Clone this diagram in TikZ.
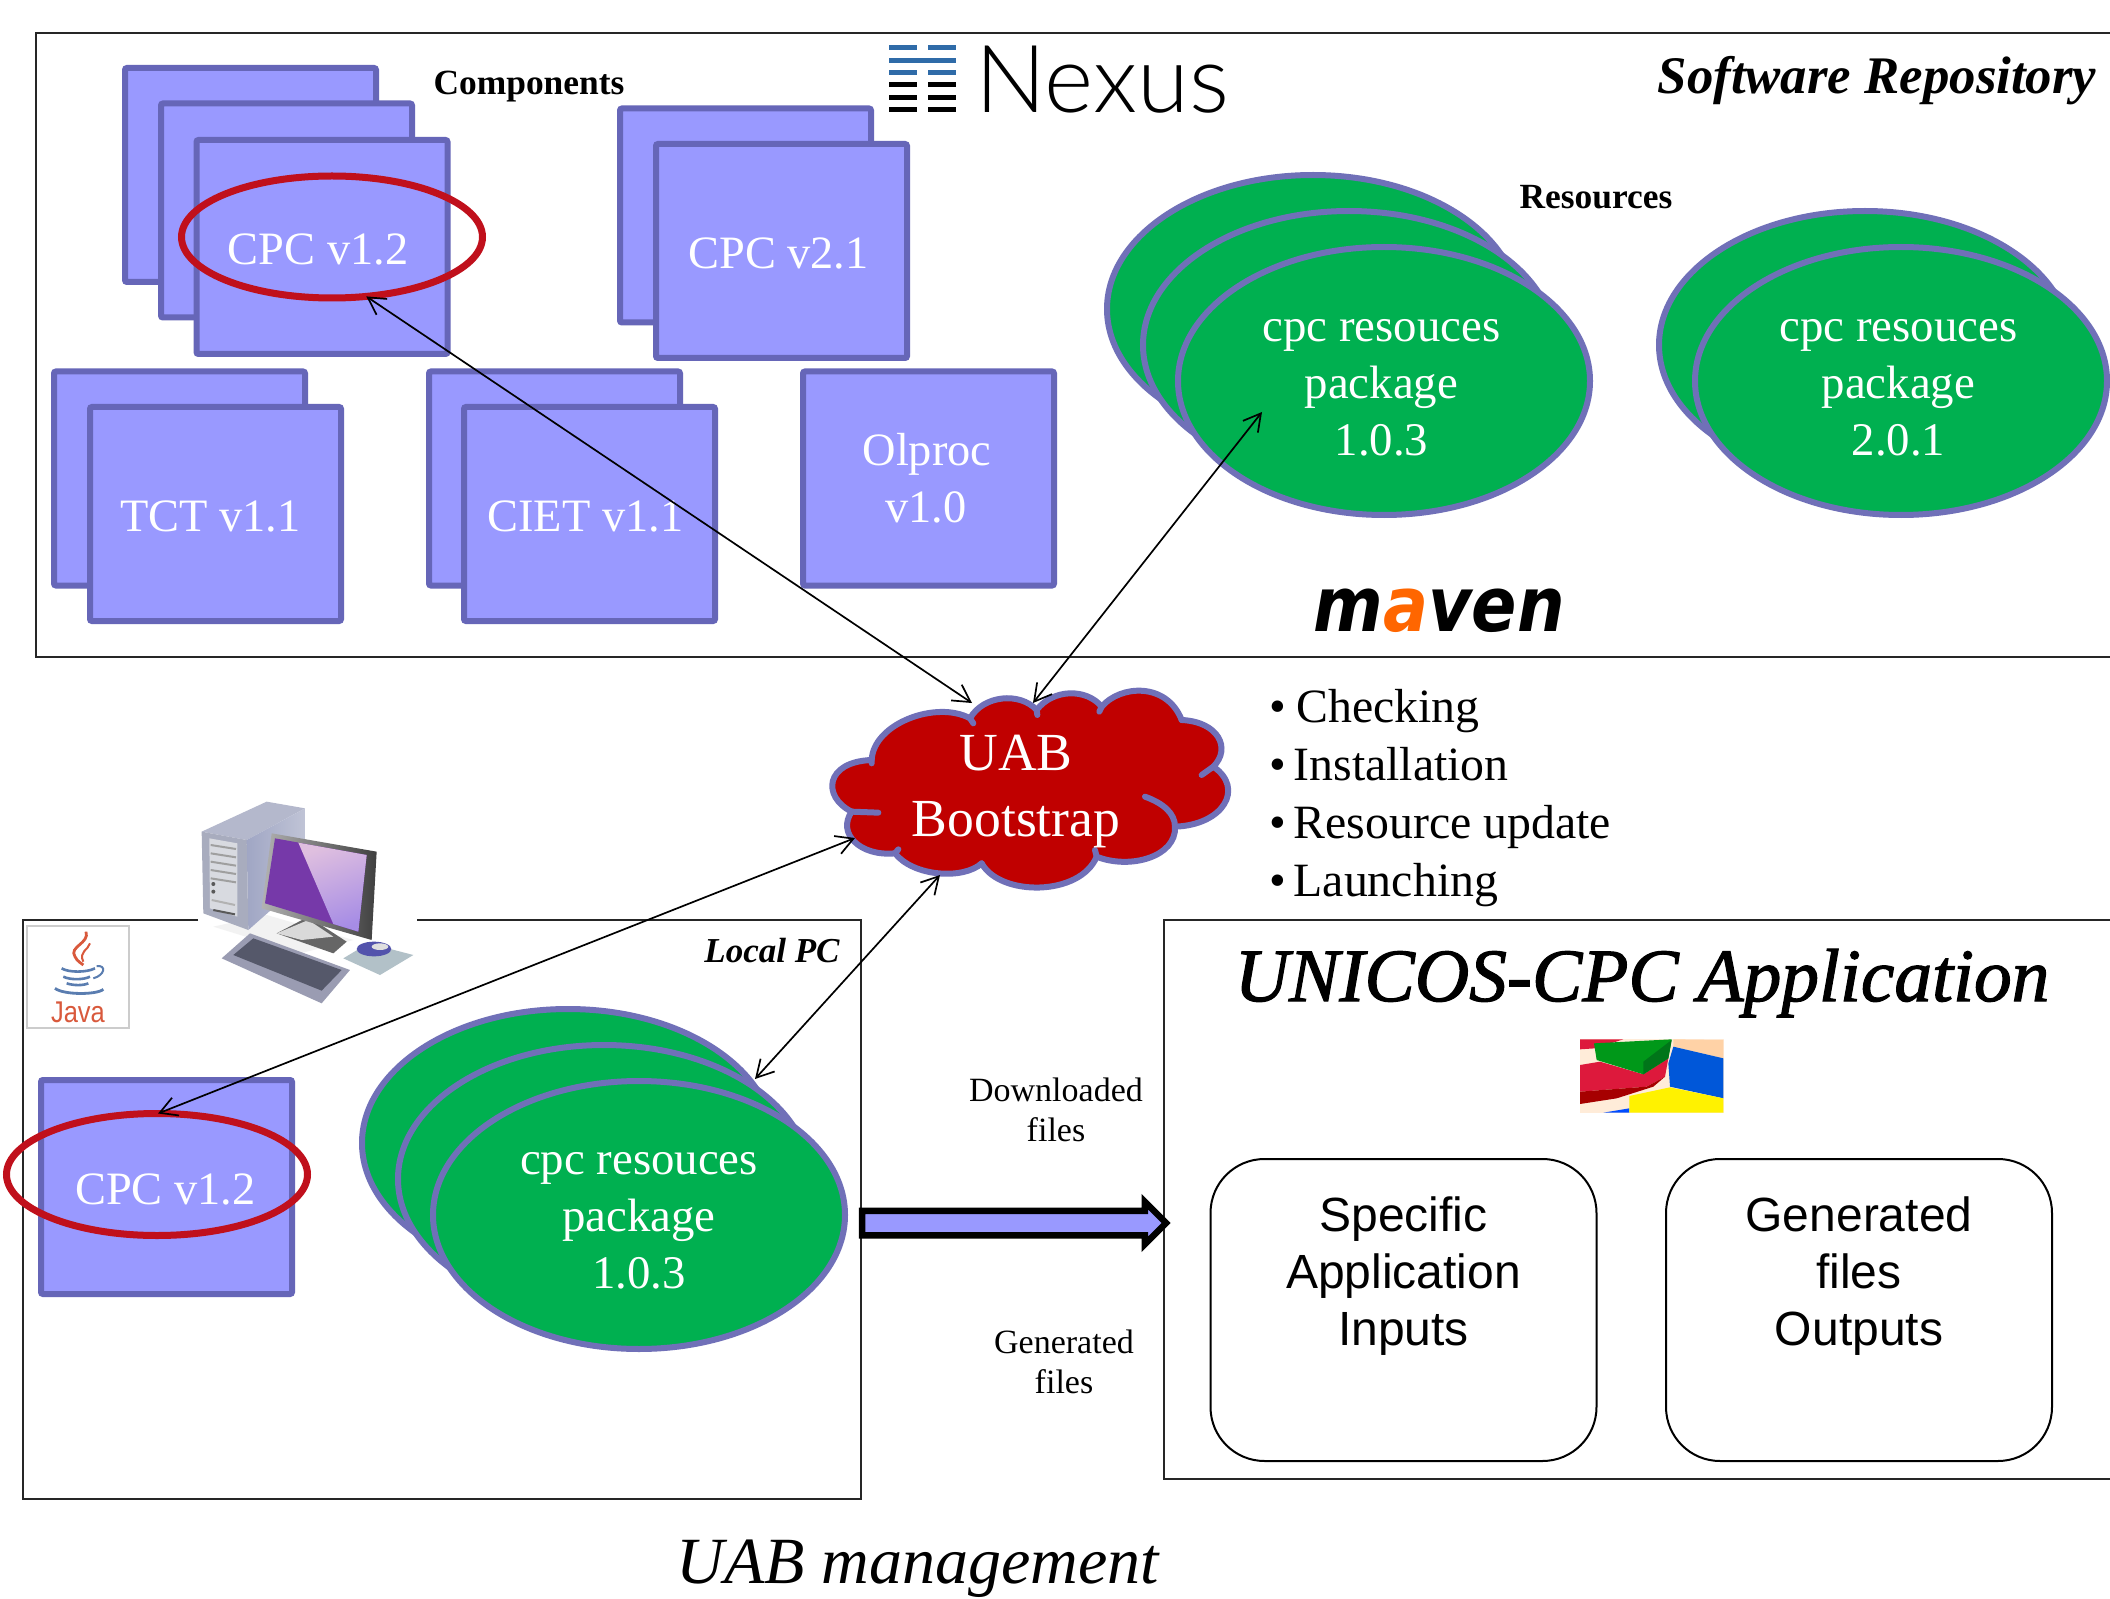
\documentclass[tikz,border=0pt]{standalone}
\usepackage{fontspec}
\setmainfont{Liberation Serif}
\newfontfamily\sansf{Liberation Sans}
\newfontfamily\nexusf[UprightFont={* Light}]{Lato}
\newfontfamily\mavenf{DejaVu Sans}
\usetikzlibrary{shapes.geometric,shapes.arrows,arrows.meta}
\definecolor{sq}{HTML}{9999FF}
\definecolor{sqb}{HTML}{6666B8}
\definecolor{gr}{HTML}{00B050}
\definecolor{grb}{HTML}{7070B8}
\definecolor{crim}{HTML}{C00000}
\definecolor{ringc}{HTML}{C0101C}
\definecolor{nexb}{HTML}{2F6BA8}
\definecolor{javar}{HTML}{D9593C}
\definecolor{javab}{HTML}{5A7DB0}
\definecolor{towtop}{HTML}{B4B8CC}
\definecolor{towsideA}{HTML}{A0A6C4}
\definecolor{towsideB}{HTML}{C0C4D6}
\definecolor{towfront}{HTML}{A8ACBE}
\definecolor{towpanel}{HTML}{D8DAE0}
\definecolor{keyb}{HTML}{9A9CB2}
\definecolor{keyk}{HTML}{55586A}
\newcommand{\pkgtext}[3]{\rule{0pt}{#3}cpc resouces\kern#2\\package\kern#2\\#1\kern#2}
\tikzset{
  frameline/.style={draw=black!85,line width=1pt},
  sqbox/.style={rectangle,draw=sqb,fill=sq,line width=3pt,minimum width=125.5pt,minimum height=107pt,inner sep=0pt,outer sep=0pt,text=white,align=center,font=\fontsize{23.2}{28.5}\selectfont,rounded corners=1pt},
  grell/.style={ellipse,draw=grb,fill=gr,line width=3pt,minimum width=206pt,minimum height=134pt,inner sep=0pt,outer sep=0pt,text=white,align=center,font=\fontsize{23.4}{28.5}\selectfont},
  ring/.style={ellipse,draw=ringc,line width=3.5pt,minimum width=150.5pt,minimum height=61pt,inner sep=0pt,outer sep=0pt},
  link/.style={draw=black,line width=.85pt,{Straight Barb[length=8.5pt,width=9.5pt]}-{Straight Barb[length=8.5pt,width=9.5pt]}},
  rbox/.style={rectangle,rounded corners=27pt,draw=black,line width=1pt,minimum width=193pt,minimum height=151pt,inner sep=0pt,outer sep=0pt,align=center,font=\sansf\fontsize{24}{28.5}\selectfont},
  smalllab/.style={align=center,inner sep=0pt,font=\fontsize{17}{20}\selectfont},
  boldlab/.style={inner sep=0pt,font=\bfseries\fontsize{17.7}{20}\selectfont},
  ilab/.style={inner sep=0pt,font=\bfseries\itshape\fontsize{17.5}{20}\selectfont},
  cloudline/.style={draw=grb,line width=3pt,line cap=round}
}
\begin{document}
\begin{tikzpicture}[x=.5pt,y=-.5pt]
\useasboundingbox (0,0) rectangle (2110,1599);
\fill[white] (0,0) rectangle (2110,1599);
% software repository frame
\draw[frameline] (2110,33) -- (36,33) -- (36,657) -- (2110,657);
% component squares
\node[sqbox] (a1) at (250.5,175) {};
\node[sqbox] (a2) at (286.5,210.5) {};
\node[sqbox] (a3) at (322,247) {\rule{0pt}{18pt}CPC v1.2\kern4pt};
\node[sqbox] (b1) at (745.5,215.5) {};
\node[sqbox] (b2) at (781.5,251) {\rule{0pt}{18pt}CPC v2.1\kern3pt};
\node[sqbox] (t1) at (179.5,478.5) {};
\node[sqbox] (t2) at (215.5,514) {\rule{0pt}{18pt}TCT v1.1\kern5pt};
\node[sqbox] (c1) at (554.5,478.5) {};
\node[sqbox] (c2) at (589.5,514) {\rule{0pt}{18pt}CIET v1.1\kern4pt};
\node[sqbox] (o1) at (928.5,478.5) {Olproc\kern1.5pt\\v1.0\kern2.5pt};
\node[ring] (redA) at (332,237) {};
% resource ellipses
\node[grell] (r1) at (1313,309) {};
\node[grell] (r2) at (1349,345) {};
\node[grell] (r3) at (1384,381) {\pkgtext{1.0.3}{2.6pt}{18pt}};
\node[grell] (s1) at (1865,345) {};
\node[grell] (s2) at (1901,381) {\pkgtext{2.0.1}{2.6pt}{18pt}};
% labels
\node[boldlab] (lcomp) at (529,87) {Components};
\node[boldlab] (lres) at (1596,197) {Resources};
\node[inner sep=0pt,font=\bfseries\itshape\fontsize{26.4}{30}\selectfont] (lrepo) at (1877,81) {Software Repository};
% nexus logo
\foreach \yy in {48,73}{\fill[nexb] (889,\yy-2.5) rectangle (917,\yy+2.5); \fill[nexb] (928,\yy-2.5) rectangle (956,\yy+2.5);}
\fill[nexb] (889,58.5) rectangle (956,63.5);
\foreach \yy in {85,98,110}{\fill[black] (889,\yy-2.5) rectangle (917,\yy+2.5); \fill[black] (928,\yy-2.5) rectangle (956,\yy+2.5);}
\node[inner sep=0pt,anchor=base west,font=\nexusf\fontsize{47}{50}\selectfont] (lnexus) at (975,113) {Nexus};
% maven
\node[inner sep=0pt,anchor=base west,xscale=.88,font=\mavenf\bfseries\itshape\fontsize{38}{44}\selectfont] (lmaven) at (1313,631) {m\textcolor[HTML]{FF6600}{a}ven};
% local pc frame
\draw[frameline] (198,920) -- (23,920) -- (23,1499) -- (861,1499) -- (861,920) -- (417,920);
% java
\draw[black!20,line width=.6pt] (27,926) rectangle (129,1028);
\begin{scope}[shift={(0,780)},scale=1/3]
  \draw[javar,line width=1.4pt] (258,455) .. controls (270,490) and (205,500) .. (225,530) .. controls (232,545) and (245,550) .. (250,555);
  \draw[javar,line width=1pt] (270,490) .. controls (265,510) and (235,515) .. (250,545);
  \draw[javab,line width=1.3pt] (185,565) .. controls (205,578) and (260,578) .. (285,565);
  \draw[javab,line width=1pt] (290,558) .. controls (320,555) and (315,585) .. (280,595);
  \draw[javab,line width=1.3pt] (190,590) .. controls (210,600) and (250,600) .. (270,590);
  \draw[javab,line width=1.3pt] (200,610) .. controls (220,617) and (250,617) .. (265,610);
  \draw[javab,line width=1.4pt] (165,625) .. controls (190,645) and (290,645) .. (310,628);
\end{scope}
\node[inner sep=0pt,xscale=.85,font=\sansf\fontsize{15}{16}\selectfont,text=javar] (ljava) at (78,1012) {Java};
% computer
\begin{scope}[shift={(0,780)},scale=1/3]
  \fill[black!5] (640,440) -- (800,405) -- (1060,480) -- (900,520) -- cycle;
  \fill[towtop] (605,155) -- (800,65) -- (915,85) -- (740,180) -- cycle;
  \shade[left color=towsideA,right color=towsideB] (740,180) -- (915,85) -- (915,300) -- (745,450) -- cycle;
  \fill[towfront] (605,155) -- (740,180) -- (745,450) -- (610,400) -- cycle;
  \fill[towpanel] (628,175) -- (712,190) -- (712,410) -- (630,385) -- cycle;
  \foreach \yy in {195,220,245,270,295}{\draw[gray!75,line width=1pt] (632,\yy) -- (708,\yy+12);}
  \fill[gray!70!black] (640,312) circle (6); \fill[gray!70!black] (640,335) circle (6);
  \draw[gray!60,line width=1pt] (635,360) -- (705,375); \draw[gray!70!black,line width=1pt] (640,390) -- (705,403);
  \fill[gray!80!black] (830,460) -- (925,410) -- (1040,485) -- (1000,520) -- cycle;
  \fill[gray!30] (830,460) -- (925,420) -- (1000,470) -- (905,480) -- cycle;
  \shade[left color=gray!60,right color=black!75] (815,160) -- (1130,215) -- (1115,480) -- (785,385) -- cycle;
  \fill[violet!70!blue!75!white!90!black] (825,175) -- (1100,225) -- (1075,455) -- (795,370) -- cycle;
  \shade[left color=violet!25!white,right color=violet!45!blue!45!white,shading angle=20] (895,188) -- (1100,225) -- (1075,455) -- (1000,432) -- cycle;
  \fill[keyb] (665,535) -- (750,460) -- (1050,570) -- (965,670) -- cycle;
  \fill[keyk] (700,525) -- (760,475) -- (1025,570) -- (965,632) -- cycle;
  \fill[cyan!20!gray!60!white] (1030,535) -- (1105,490) -- (1240,525) -- (1140,585) -- cycle;
  \fill[blue!35!gray] (1122,507) ellipse (52 and 22);
  \fill[gray!25] (1140,500) ellipse (25 and 10);
\end{scope}
% local pc contents
\node[sqbox] (l1) at (166.5,1187) {\rule{0pt}{18pt}CPC v1.2\kern1pt};
\node[ring] (redL) at (157,1174.5) {};
\node[grell] (p1) at (568,1143) {};
\node[grell] (p2) at (604,1179) {};
\node[grell] (p3) at (639,1215) {\pkgtext{1.0.3}{0pt}{17pt}};
\node[ilab] (llocal) at (772,951) {Local PC};
% cloud
\begin{scope}[shift={(820,660)},scale=1/3]
  \path[fill=crim] (155,300) .. controls (160,190) and (350,120) .. (450,175)
    .. controls (490,105) and (600,95) .. (650,150)
    .. controls (700,85) and (800,85) .. (845,140)
    .. controls (900,75) and (1040,65) .. (1085,180)
    .. controls (1195,185) and (1235,265) .. (1180,320)
    .. controls (1275,385) and (1210,495) .. (1065,500)
    .. controls (1070,590) and (930,630) .. (830,590)
    .. controls (780,710) and (540,710) .. (485,610)
    .. controls (430,660) and (280,650) .. (225,580)
    .. controls (120,590) and (50,520) .. (95,455)
    .. controls (5,410) and (15,305) .. (155,300) -- cycle;
  \draw[cloudline] (155,310) -- (155,300) .. controls (160,190) and (350,120) .. (450,175) -- (460,190);
  \draw[cloudline] (450,175) .. controls (490,105) and (600,95) .. (650,150) -- (652,165);
  \draw[cloudline] (650,150) .. controls (700,85) and (800,85) .. (845,140) -- (838,155);
  \draw[cloudline] (845,140) .. controls (900,75) and (1040,65) .. (1085,180);
  \draw[cloudline] (1085,180) .. controls (1195,185) and (1235,265) .. (1180,320) -- (1145,345);
  \draw[cloudline] (1180,320) .. controls (1275,385) and (1210,495) .. (1065,500);
  \draw[cloudline] (975,410) .. controls (1030,430) and (1065,460) .. (1065,500) .. controls (1070,590) and (930,630) .. (830,590) -- (825,570);
  \draw[cloudline] (830,590) .. controls (780,710) and (540,710) .. (485,610);
  \draw[cloudline] (485,610) .. controls (430,660) and (280,650) .. (225,580) -- (235,568);
  \draw[cloudline] (225,580) .. controls (120,590) and (50,520) .. (95,455) -- (175,458);
  \draw[cloudline] (95,455) .. controls (5,410) and (15,305) .. (155,300);
\end{scope}
\node[inner sep=0pt,align=center,text=white,font=\fontsize{26.8}{33}\selectfont] (uab) at (1016,792) {UAB\\Bootstrap};
% bullets
\node[inner sep=0pt,anchor=west,align=left,font=\fontsize{23.9}{29}\selectfont] (bul) at (1269,798) {• \kern-.8pt Checking\\• \kern-2.2pt Installation\\• \kern-2.2pt Resource update\\• \kern-2.2pt Launching};
% unicos frame
\draw[frameline] (2110,920) -- (1164,920) -- (1164,1479) -- (2110,1479);
\node[inner sep=0pt,font=\itshape\fontsize{37.7}{42}\selectfont\addfontfeature{FakeBold=1.5}] (ltitle) at (1642,983) {UNICOS-CPC Application};
% blocks image
\begin{scope}[shift={(1570,1030)},scale=1/3]
  \fill[orange!15!white] (30,28) rectangle (462,248);
  \fill[red!85!blue!90!white] (30,28) -- (160,28) -- (75,55) -- (30,58) -- cycle;
  \fill[orange!35!white] (310,28) -- (460,30) -- (460,85) -- (310,50) -- cycle;
  \fill[red!85!blue!90!white] (30,105) -- (90,95) -- (220,133) -- (295,85) -- (285,140) -- (230,170) -- (30,185) -- cycle;
  \fill[red!65!black] (30,185) -- (230,170) -- (285,140) -- (250,170) -- (140,205) -- (30,222) -- cycle;
  \fill[green!55!black!90!cyan] (72,40) -- (305,28) -- (295,85) -- (220,133) -- (80,90) -- cycle;
  \fill[green!40!black!90!cyan] (220,95) -- (305,30) -- (295,85) -- (220,133) -- cycle;
  \fill[blue!60!cyan!85!black] (310,50) -- (460,85) -- (460,205) -- (300,170) -- (295,100) -- cycle;
  \fill[blue!70!cyan] (100,248) -- (178,235) -- (178,248) -- cycle;
  \fill[yellow] (178,198) -- (300,172) -- (460,205) -- (460,248) -- (178,248) -- cycle;
\end{scope}
% app boxes
\node[rbox] (spec) at (1403.5,1310) {Specific\\Application\\Inputs\\[10pt]\mbox{}};
\node[rbox] (gen) at (1859,1310) {Generated\\files\\Outputs\\[10pt]\mbox{}};
% small labels
\node[smalllab] (ldown) at (1056,1110) {Downloaded\\files};
\node[smalllab] (lgen) at (1064,1362) {Generated\\files};
\node[inner sep=0pt,font=\itshape\fontsize{33}{36}\selectfont] (lcap) at (918,1569) {UAB management};
% thick arrow
\node[single arrow,draw=black,fill=sq,line width=3.25pt,single arrow head extend=4.5pt,single arrow tip angle=90,minimum height=152pt,inner xsep=0pt,inner ysep=4.5pt,outer sep=0pt] (big) at (1008,1223) {};
% connectors
\coordinate (n1) at (972,703);
\coordinate (n2) at (1033,703);
\coordinate (n3) at (855,838);
\coordinate (n4) at (940,875);
\coordinate (g1) at (1262,412);
\coordinate (g2) at (755,1079);
\draw[link] (redA.-60) -- (n1);
\draw[link] (g1) -- (n2);
\draw[link] (redL.89) -- (n3);
\draw[link] (g2) -- (n4);
\end{tikzpicture}
\end{document}
